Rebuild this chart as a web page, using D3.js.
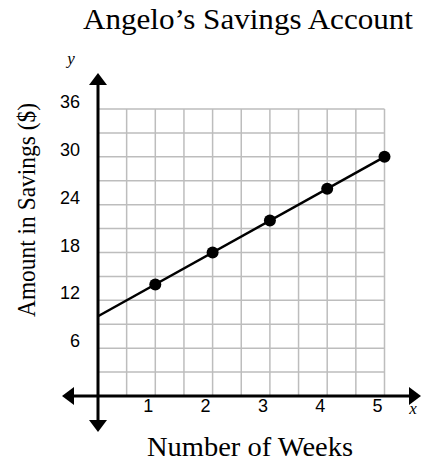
<!DOCTYPE html>
<html>
<head>
<meta charset="utf-8">
<script src="https://cdn.jsdelivr.net/npm/d3@7"></script>
<style>
  body { margin: 0; background: #fff; }
  svg { display: block; }
</style>
</head>
<body>
<svg id="chart" width="429" height="463"></svg>
<script>
// data
var weeks = [1, 2, 3, 4, 5];
var savings = [14, 18, 22, 26, 30];
var lineWeeks = [0, 5];
var lineSavings = [10, 30];
var xTicks = [1, 2, 3, 4, 5];
var yTicks = [6, 12, 18, 24, 30, 36];
var xGrid = d3.range(0.5, 5.01, 0.5);
var yGrid = d3.range(3, 36.01, 3);

var svg = d3.select("#chart");

var x = d3.scaleLinear().domain([0, 5]).range([98, 384.5]);
var y = d3.scaleLinear().domain([0, 36]).range([396, 109]);

// title
svg.append("text")
  .attr("x", 248)
  .attr("y", 29)
  .attr("text-anchor", "middle")
  .attr("textLength", 330)
  .attr("lengthAdjust", "spacingAndGlyphs")
  .style("font-family", "Liberation Serif")
  .style("font-size", "30px")
  .text("Angelo\u2019s Savings Account");

// grid
var grid = svg.append("g").attr("stroke", "#bdbdbd").attr("stroke-width", 1.5);
grid.selectAll(".vg").data(xGrid).enter().append("line")
  .attr("x1", function(d) { return x(d); })
  .attr("x2", function(d) { return x(d); })
  .attr("y1", y(0))
  .attr("y2", y(36));
grid.selectAll(".hg").data(yGrid).enter().append("line")
  .attr("x1", x(0))
  .attr("x2", x(5))
  .attr("y1", function(d) { return y(d); })
  .attr("y2", function(d) { return y(d); });

// axes with arrows
svg.append("line")
  .attr("x1", x(0)).attr("x2", x(0))
  .attr("y1", 82).attr("y2", 422)
  .attr("stroke", "#000").attr("stroke-width", 3);
svg.append("line")
  .attr("x1", 70).attr("x2", 412)
  .attr("y1", y(0)).attr("y2", y(0))
  .attr("stroke", "#000").attr("stroke-width", 3);

var ax = x(0), ay = y(0);
var arrows = [
  [[ax, 73], [ax - 9, 85], [ax + 9, 85]],
  [[ax, 432], [ax - 9, 420], [ax + 9, 420]],
  [[62, ay], [74, ay - 9], [74, ay + 9]],
  [[421, ay], [409, ay - 9], [409, ay + 9]]
];
svg.selectAll(".arrow").data(arrows).enter().append("path")
  .attr("d", function(d) { return "M" + d.join("L") + "Z"; })
  .attr("fill", "#000");

// tick labels (offset like the source image)
svg.selectAll(".xt").data(xTicks).enter().append("text")
  .attr("x", function(d) { return x(d) - 7; })
  .attr("y", 412)
  .attr("text-anchor", "middle")
  .style("font-family", "Liberation Sans")
  .style("font-size", "18px")
  .text(function(d) { return d; });

svg.selectAll(".yt").data(yTicks).enter().append("text")
  .attr("x", 80)
  .attr("y", function(d) { return y(d) - 1; })
  .attr("text-anchor", "end")
  .style("font-family", "Liberation Sans")
  .style("font-size", "18px")
  .text(function(d) { return d; });

// axis letters
svg.append("text")
  .attr("x", 71).attr("y", 64)
  .attr("text-anchor", "middle")
  .style("font-family", "Liberation Serif")
  .style("font-style", "italic")
  .style("font-size", "17px")
  .text("y");
svg.append("text")
  .attr("x", 413).attr("y", 414)
  .attr("text-anchor", "middle")
  .style("font-family", "Liberation Serif")
  .style("font-style", "italic")
  .style("font-size", "17px")
  .text("x");

// axis titles
svg.append("text")
  .attr("transform", "translate(35,210) rotate(-90)")
  .attr("text-anchor", "middle")
  .attr("textLength", 214)
  .attr("lengthAdjust", "spacingAndGlyphs")
  .style("font-family", "Liberation Serif")
  .style("font-size", "26px")
  .text("Amount in Savings ($)");
svg.append("text")
  .attr("x", 250).attr("y", 456)
  .attr("text-anchor", "middle")
  .attr("textLength", 206)
  .attr("lengthAdjust", "spacingAndGlyphs")
  .style("font-family", "Liberation Serif")
  .style("font-size", "27px")
  .text("Number of Weeks");

// line and points
var line = d3.line()
  .x(function(d, i) { return x(lineWeeks[i]); })
  .y(function(d, i) { return y(lineSavings[i]); });
svg.append("path")
  .datum(lineWeeks)
  .attr("d", line)
  .attr("fill", "none")
  .attr("stroke", "#000")
  .attr("stroke-width", 2.5);

svg.selectAll(".pt").data(weeks).enter().append("circle")
  .attr("cx", function(d) { return x(d); })
  .attr("cy", function(d, i) { return y(savings[i]); })
  .attr("r", 6)
  .attr("fill", "#000");
</script>
</body>
</html>
